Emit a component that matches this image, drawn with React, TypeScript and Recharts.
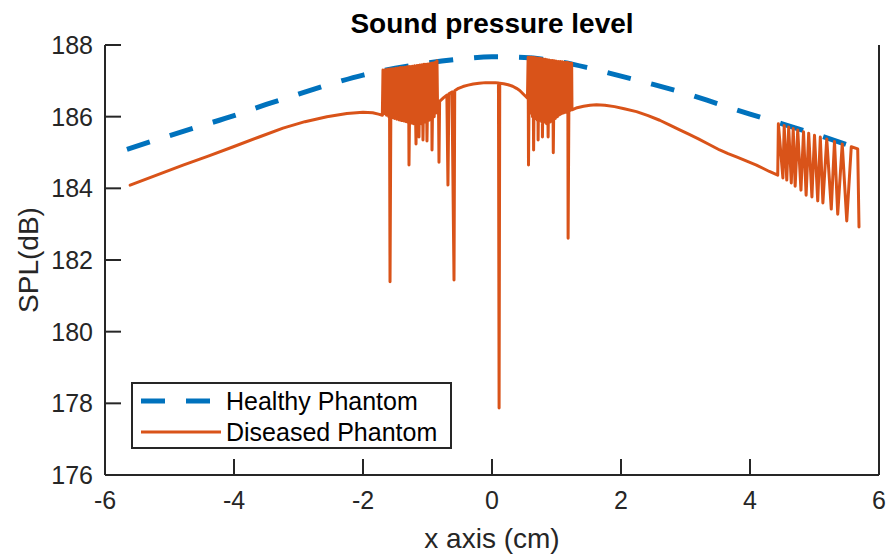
import { LineChart, Line, XAxis, YAxis, Legend } from "recharts"

const FONT = '"Liberation Sans", Arial, Helvetica, sans-serif'
const AXIS = "#262626"
const BLUE = "#0072BD"
const ORANGE = "#D95319"

const xTicks = [-6, -4, -2, 0, 2, 4, 6]
const yTicks = [176, 178, 180, 182, 184, 186, 188]

// healthy phantom, smooth dashed curve
const healthyX = [-5.66, -5.0, -4.5, -4.0, -3.5, -3.0, -2.5, -2.0, -1.5, -1.0, -0.5, 0, 0.5, 1.0, 1.5, 2.0, 2.5, 3.0, 3.5, 4.0, 4.5, 5.0, 5.5, 5.71]
const healthyY = [185.09, 185.47, 185.75, 186.03, 186.34, 186.63, 186.91, 187.16, 187.35, 187.5, 187.61, 187.67, 187.65, 187.55, 187.36, 187.13, 186.9, 186.65, 186.36, 186.07, 185.8, 185.52, 185.22, 185.09]

// diseased phantom, read piece by piece
const diseasedLeft: [number, number][] = [
  [-5.61, 184.09], [-5.2, 184.37], [-4.79, 184.65], [-4.4, 184.9], [-4.01, 185.16], [-3.6, 185.44],
  [-3.24, 185.68], [-2.9, 185.86], [-2.56, 186.0], [-2.25, 186.09], [-2.0, 186.12], [-1.85, 186.11],
  [-1.76, 186.07], [-1.7, 186.04],
]

// first oscillating band
const blockA: [number, number][] = [
  [-1.69, 187.3], [-1.672, 186.08], [-1.654, 187.31], [-1.636, 186.04], [-1.618, 187.32], [-1.6, 186.0],
  [-1.59, 187.33], [-1.581, 181.39], [-1.565, 187.33], [-1.547, 185.97], [-1.529, 187.34], [-1.511, 185.95],
  [-1.493, 187.35], [-1.475, 185.93], [-1.457, 187.36], [-1.439, 185.91], [-1.421, 187.37], [-1.403, 185.89],
  [-1.385, 187.37], [-1.367, 185.88], [-1.349, 187.38], [-1.331, 185.86], [-1.313, 187.39], [-1.3, 185.84],
  [-1.294, 187.39], [-1.287, 184.65], [-1.27, 187.4], [-1.252, 185.82], [-1.234, 187.41], [-1.216, 185.8],
  [-1.198, 187.42], [-1.178, 185.24], [-1.16, 187.43], [-1.146, 185.78], [-1.139, 187.43], [-1.132, 185.43],
  [-1.115, 187.44], [-1.097, 185.8], [-1.083, 187.45], [-1.07, 185.35], [-1.052, 187.46], [-1.034, 185.85],
  [-1.02, 187.46], [-1.008, 185.32], [-0.99, 187.47], [-0.975, 185.9], [-0.96, 187.48], [-0.945, 185.95],
  [-0.937, 187.49], [-0.93, 185.07], [-0.912, 187.5], [-0.896, 186.0], [-0.882, 187.51], [-0.868, 186.1],
  [-0.86, 187.53], [-0.853, 187.56],
]

const hump: [number, number][] = [
  [-0.845, 186.38], [-0.83, 186.41], [-0.822, 184.73], [-0.812, 186.43], [-0.75, 186.53], [-0.7, 186.6],
  [-0.683, 184.09], [-0.668, 186.64], [-0.62, 186.69], [-0.589, 181.44], [-0.578, 186.72], [-0.52, 186.79],
  [-0.45, 186.84], [-0.37, 186.88], [-0.29, 186.91], [-0.2, 186.93], [-0.1, 186.95], [-0.03, 186.95],
  [0.05, 186.95], [0.1, 186.94], [0.11, 177.87], [0.12, 186.93], [0.18, 186.92], [0.25, 186.89],
  [0.32, 186.85], [0.38, 186.79], [0.43, 186.73], [0.48, 186.64], [0.52, 186.57], [0.55, 186.52],
]

// second oscillating band
const blockB: [number, number][] = [
  [0.56, 187.66], [0.566, 184.65], [0.58, 187.66], [0.596, 186.1], [0.612, 187.66], [0.628, 186.0],
  [0.636, 187.65], [0.645, 185.07], [0.66, 187.65], [0.676, 185.95], [0.692, 187.64], [0.703, 185.9],
  [0.709, 187.63], [0.715, 185.35], [0.73, 187.63], [0.746, 185.9], [0.762, 187.62], [0.772, 185.85],
  [0.777, 187.61], [0.782, 185.43], [0.798, 187.61], [0.814, 185.85], [0.83, 187.6], [0.846, 185.8],
  [0.858, 187.59], [0.87, 185.43], [0.886, 187.58], [0.902, 185.85], [0.918, 187.57], [0.934, 185.9],
  [0.942, 187.57], [0.95, 184.99], [0.966, 187.56], [0.982, 185.95], [0.998, 187.55], [1.014, 186.0],
  [1.03, 187.54], [1.046, 186.05], [1.062, 187.54], [1.078, 186.08], [1.094, 187.53], [1.11, 186.1],
  [1.126, 187.52], [1.142, 186.12], [1.158, 187.51], [1.17, 186.15], [1.175, 187.51], [1.18, 182.61],
  [1.196, 187.5], [1.212, 186.17], [1.228, 187.49], [1.235, 187.49],
]

const diseasedRight: [number, number][] = [
  [1.24, 186.19], [1.32, 186.25], [1.42, 186.29], [1.52, 186.32], [1.62, 186.33], [1.75, 186.32],
  [1.9, 186.28], [2.05, 186.22], [2.24, 186.14], [2.42, 186.03], [2.6, 185.9], [2.75, 185.77],
  [2.91, 185.63], [3.05, 185.51], [3.2, 185.38], [3.36, 185.23], [3.53, 185.07], [3.66, 184.97],
  [3.8, 184.87], [3.95, 184.76], [4.1, 184.65], [4.2, 184.56], [4.3, 184.47], [4.43, 184.37],
]

// teeth near the right edge
const blockC: [number, number][] = [
  [4.44, 185.8], [4.51, 184.29], [4.53, 185.75], [4.57, 184.23], [4.6, 185.71], [4.64, 184.15],
  [4.67, 185.67], [4.7, 184.06], [4.74, 185.63], [4.79, 183.95], [4.83, 185.58], [4.87, 183.81],
  [4.91, 185.54], [4.96, 183.76], [5.0, 185.48], [5.05, 183.65], [5.09, 185.43], [5.13, 183.59],
  [5.19, 185.38], [5.26, 183.42], [5.31, 185.31], [5.36, 183.28], [5.43, 185.24], [5.5, 183.09],
  [5.57, 185.16], [5.67, 185.1], [5.69, 182.92],
]

const healthy = healthyX.map((x, i) => ({ x, y: healthyY[i] }))
const diseased = [...diseasedLeft, ...blockA, ...hump, ...blockB, ...diseasedRight, ...blockC].map(([x, y]) => ({ x, y }))

const tickStyle = { fill: AXIS, fontSize: 25, fontFamily: FONT }
const axisLine = { stroke: AXIS, strokeWidth: 2 }

function LegendBox() {
  return (
    <div
      style={{
        position: "relative",
        width: 321,
        height: 67,
        boxSizing: "border-box",
        border: `2px solid ${AXIS}`,
        background: "#fff",
        fontFamily: FONT,
        fontSize: 25,
        color: "#000",
      }}
    >
      <svg width={90} height={67} style={{ position: "absolute", left: 0, top: 0 }}>
        <line x1={8} x2={88} y1={17} y2={17} stroke={BLUE} strokeWidth={5} strokeDasharray="24 21" />
        <line x1={8} x2={88} y1={48} y2={48} stroke={ORANGE} strokeWidth={3} />
      </svg>
      <div style={{ position: "absolute", left: 93, top: 2, lineHeight: "30px" }}>Healthy Phantom</div>
      <div style={{ position: "absolute", left: 93, top: 33, lineHeight: "30px" }}>Diseased Phantom</div>
    </div>
  )
}

export default function App() {
  return (
    <div style={{ position: "absolute", left: 0, top: 0, width: 887, height: 554, background: "#fff" }}>
      <div
        style={{
          position: "absolute",
          left: 105,
          top: 10,
          width: 774,
          textAlign: "center",
          fontFamily: FONT,
          fontWeight: "bold",
          fontSize: 28,
          lineHeight: "28px",
          color: "#000",
        }}
      >
        Sound pressure level
      </div>
      <LineChart width={887} height={554} margin={{ top: 45, right: 0, bottom: 0, left: 0 }}>
        <XAxis
          xAxisId="b"
          dataKey="x"
          type="number"
          domain={[-6, 6]}
          ticks={xTicks}
          interval={0}
          height={79}
          tickSize={-16}
          tickMargin={32}
          axisLine={axisLine}
          tickLine={axisLine}
          tick={tickStyle}
          label={{ value: "x axis (cm)", position: "insideBottom", offset: 6, fill: AXIS, fontSize: 28, fontFamily: FONT }}
        />
        <XAxis
          xAxisId="t"
          orientation="top"
          dataKey="x"
          type="number"
          domain={[-6, 6]}
          ticks={xTicks}
          interval={0}
          height={0}
          tickSize={-16}
          axisLine={axisLine}
          tickLine={axisLine}
          tickFormatter={() => ""}
        />
        <YAxis
          yAxisId="l"
          type="number"
          domain={[176, 188]}
          ticks={yTicks}
          interval={0}
          width={105}
          tickSize={-16}
          tickMargin={28}
          axisLine={axisLine}
          tickLine={axisLine}
          tick={tickStyle}
          label={{
            value: "SPL(dB)",
            angle: -90,
            position: "insideLeft",
            offset: 28,
            fill: AXIS,
            fontSize: 28,
            fontFamily: FONT,
            style: { textAnchor: "middle" },
          }}
        />
        <YAxis
          yAxisId="r"
          orientation="right"
          type="number"
          domain={[176, 188]}
          ticks={yTicks}
          interval={0}
          width={8}
          tickSize={-16}
          axisLine={axisLine}
          tickLine={axisLine}
          tickFormatter={() => ""}
        />
        <Line
          xAxisId="b"
          yAxisId="l"
          data={healthy}
          dataKey="y"
          type="monotone"
          stroke={BLUE}
          strokeWidth={5}
          strokeDasharray="24 21"
          dot={false}
          activeDot={false}
          isAnimationActive={false}
        />
        <Line
          xAxisId="b"
          yAxisId="l"
          data={diseased}
          dataKey="y"
          type="linear"
          stroke={ORANGE}
          strokeWidth={3}
          strokeLinejoin="round"
          strokeLinecap="round"
          dot={false}
          activeDot={false}
          isAnimationActive={false}
        />
        <Legend
          layout="vertical"
          align="center"
          verticalAlign="middle"
          wrapperStyle={{ left: 131, top: 382, width: 321, height: 67 }}
          content={() => <LegendBox />}
        />
      </LineChart>
    </div>
  )
}
